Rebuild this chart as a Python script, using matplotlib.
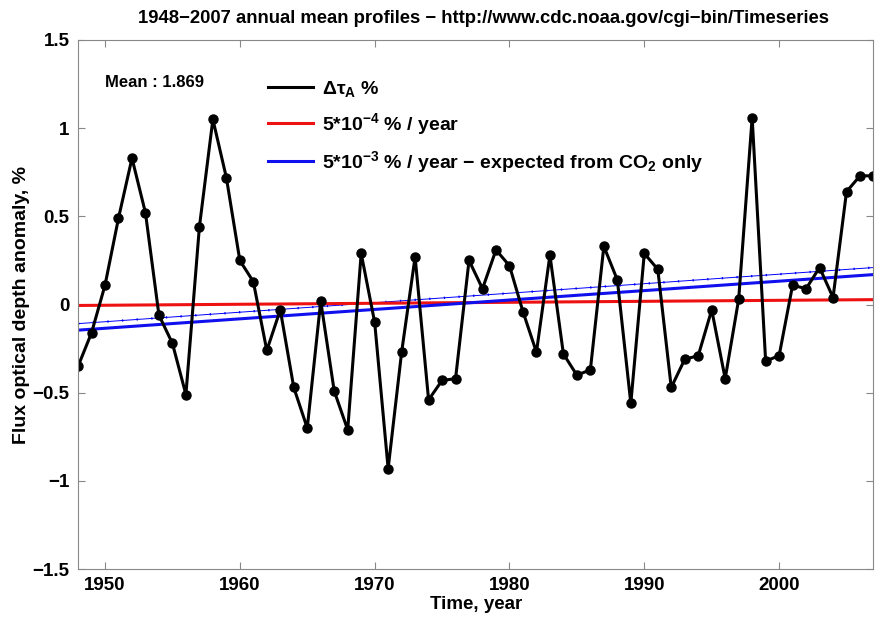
import matplotlib
matplotlib.use("Agg")
import matplotlib.pyplot as plt
from matplotlib.lines import Line2D

plt.rcParams["font.family"] = ["Liberation Sans", "DejaVu Sans"]
plt.rcParams["font.weight"] = "bold"
plt.rcParams["mathtext.fontset"] = "custom"
plt.rcParams["mathtext.rm"] = "Liberation Sans:bold"
plt.rcParams["mathtext.bf"] = "Liberation Sans:bold"
plt.rcParams["mathtext.it"] = "Liberation Sans:bold:italic"
plt.rcParams["mathtext.default"] = "bf"
plt.rcParams["axes.unicode_minus"] = True

years = list(range(1948, 2008))
tau_anomaly = [
    -0.35, -0.16, 0.11, 0.49, 0.83, 0.52, -0.06, -0.22, -0.51, 0.44,
    1.05, 0.72, 0.25, 0.13, -0.26, -0.03, -0.47, -0.70, 0.02, -0.49,
    -0.71, 0.29, -0.10, -0.93, -0.27, 0.27, -0.54, -0.43, -0.42, 0.25,
    0.09, 0.31, 0.22, -0.04, -0.27, 0.28, -0.28, -0.40, -0.37, 0.33,
    0.14, -0.56, 0.29, 0.20, -0.47, -0.31, -0.29, -0.03, -0.42, 0.03,
    1.06, -0.32, -0.29, 0.11, 0.09, 0.21, 0.04, 0.64, 0.73, 0.73,
]

# straight trend lines, given by their end values at 1948 and 2007
trend_years = [1948, 2007]
red_trend = [-0.005, 0.028]
blue_trend = [-0.145, 0.17]
fit_trend = [-0.108, 0.21]

mean_text = "Mean : 1.869"

fig = plt.figure(figsize=(8.77, 6.2), dpi=100)
ax = fig.add_axes([0.089, 0.082, 0.907, 0.8535])

ax.plot(trend_years, fit_trend, color="blue", lw=0.7)
ax.plot(trend_years, fit_trend, color="blue", lw=1.6, dashes=(0.6, 6))
ax.plot(trend_years, red_trend, color="#ee1111", lw=2.2)
ax.plot(trend_years, blue_trend, color="#1010ee", lw=2.2)
ax.plot(years, tau_anomaly, color="black", lw=2.2, marker="o", ms=6.5)

ax.set_xlim(1948, 2007)
ax.set_ylim(-1.5, 1.5)
ax.set_xticks([1950, 1960, 1970, 1980, 1990, 2000])
ax.set_yticks([-1.5, -1, -0.5, 0, 0.5, 1, 1.5])
ax.set_yticklabels(["\u22121.5", "\u22121", "\u22120.5", "0", "0.5", "1", "1.5"])
ax.tick_params(direction="in", length=5, top=True, right=True,
               labelsize=13.5, color="#888888", pad=6)
for s in ax.spines.values():
    s.set_color("#888888")

ax.set_xlabel("Time, year", fontsize=13.5, fontweight="bold", labelpad=1)
ax.set_ylabel("Flux optical depth anomaly, %", fontsize=14,
              fontweight="bold", labelpad=2)
ax.set_title("1948\u22122007 annual mean profiles \u2212 "
             "http://www.cdc.noaa.gov/cgi\u2212bin/Timeseries",
             fontsize=13.3, fontweight="bold", pad=12, x=0.51)

ax.text(1950, 1.26, mean_text, fontsize=12, fontweight="bold",
        va="center", ha="left")

handles = [Line2D([], [], color="black", lw=2.2),
           Line2D([], [], color="#ee1111", lw=2.2),
           Line2D([], [], color="#1010ee", lw=2.2)]
ax.legend(handles,
          [r"$\Delta\tau_A$ %",
           r"$5{*}10^{-4}$ % / year",
           r"$5{*}10^{-3}$ % / year $-$ expected from CO$_2$ only"],
          loc="upper left", bbox_to_anchor=(0.217, 0.96), frameon=False,
          handlelength=2.3, handletextpad=0.45, labelspacing=0.62,
          prop={"weight": "bold", "size": 14})

fig.savefig("out.png", dpi=100)
